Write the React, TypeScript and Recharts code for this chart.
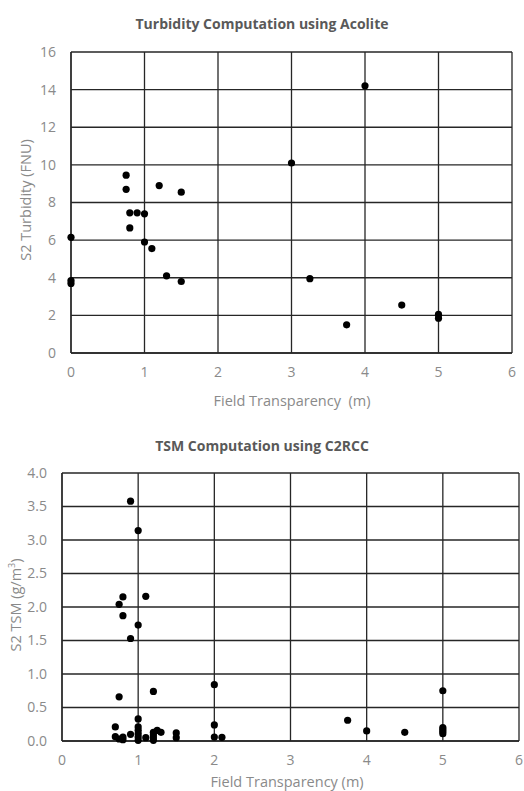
import { CartesianGrid, Scatter, ScatterChart, XAxis, YAxis } from "recharts"

// Turbidity (Acolite) vs field transparency
const turbidityX = [4, 3, 0.75, 0.75, 1.2, 1.5, 0.8, 0.9, 1.0, 0.8, 0, 1.0, 1.1, 1.3, 1.5, 0, 0, 3.25, 3.75, 4.5, 5, 5]
const turbidityY = [14.2, 10.1, 9.45, 8.7, 8.9, 8.55, 7.45, 7.45, 7.4, 6.65, 6.15, 5.9, 5.55, 4.1, 3.8, 3.85, 3.7, 3.95, 1.5, 2.55, 2.05, 1.85]

// TSM (C2RCC) vs field transparency
const tsmX = [
  0.9, 1.0, 0.75, 0.8, 0.8, 1.1, 1.0, 0.9, 0.75, 1.2, 2.0, 5, 1.0, 3.75, 4.0, 4.5,
  5, 5, 5, 5, 2.0, 2.0, 2.1, 0.7, 0.7, 0.75, 0.8, 0.8, 0.9,
  1.0, 1.0, 1.0, 1.0, 1.0, 1.1, 1.2, 1.2, 1.2, 1.2, 1.25, 1.3, 1.5, 1.5,
]
const tsmY = [
  3.58, 3.14, 2.04, 2.15, 1.87, 2.16, 1.73, 1.53, 0.66, 0.74, 0.84, 0.75, 0.33, 0.31, 0.15, 0.13,
  0.2, 0.17, 0.14, 0.11, 0.24, 0.06, 0.055, 0.21, 0.065, 0.03, 0.02, 0.06, 0.1,
  0.21, 0.16, 0.11, 0.06, 0.01, 0.05, 0.13, 0.09, 0.05, 0.01, 0.16, 0.13, 0.12, 0.05,
]

const turbidityTicksX = [0, 1, 2, 3, 4, 5, 6]
const turbidityTicksY = [0, 2, 4, 6, 8, 10, 12, 14, 16]
const tsmTicksX = [0, 1, 2, 3, 4, 5, 6]
const tsmTicksY = [0, 0.5, 1, 1.5, 2, 2.5, 3, 3.5, 4]

const turbidityData = turbidityX.map((x, i) => ({ x, y: turbidityY[i] }))
const tsmData = tsmX.map((x, i) => ({ x, y: tsmY[i] }))

const FONT = "'Open Sans', sans-serif"
const GRID = "#262626"
const TICK = { fill: "#8a8a8a", fontSize: 14, fontFamily: FONT }

const Dot = (props: any) => <circle cx={props.cx} cy={props.cy} r={3.6} fill="#000" />

const titleStyle: React.CSSProperties = {
  position: "absolute",
  left: 0,
  width: 524,
  textAlign: "center",
  fontFamily: FONT,
  fontWeight: 700,
  fontSize: 14,
  color: "#595959",
  whiteSpace: "nowrap",
}

const axisTitle: React.CSSProperties = {
  position: "absolute",
  fontFamily: FONT,
  fontSize: 14.5,
  color: "#8a8a8a",
  whiteSpace: "pre",
}

export default function App() {
  return (
    <div style={{ position: "absolute", left: 0, top: 0, width: 524, height: 791, background: "#fff", overflow: "hidden" }}>
      <div style={{ ...titleStyle, top: 14 }}>Turbidity Computation using Acolite</div>
      <div style={{ position: "absolute", left: 0, top: 0 }}>
        <ScatterChart width={524} height={380} margin={{ top: 52, right: 12, bottom: 0, left: 0 }}>
          <CartesianGrid stroke={GRID} strokeWidth={1.3} />
          <XAxis
            type="number"
            dataKey="x"
            domain={[0, 6]}
            ticks={turbidityTicksX}
            height={27}
            tickLine={false}
            tickMargin={8}
            axisLine={{ stroke: GRID, strokeWidth: 1.3 }}
            tick={TICK}
          />
          <YAxis
            type="number"
            dataKey="y"
            domain={[0, 16]}
            ticks={turbidityTicksY}
            width={71}
            tickLine={false}
            tickMargin={9}
            axisLine={{ stroke: GRID, strokeWidth: 1.3 }}
            tick={TICK}
          />
          <Scatter data={turbidityData} shape={Dot} isAnimationActive={false} />
        </ScatterChart>
      </div>
      <div style={{ ...axisTitle, left: 0, width: 524, top: 391, textAlign: "center", paddingLeft: 60, boxSizing: "border-box" }}>
        {"Field Transparency  (m)"}
      </div>
      <div style={{ ...axisTitle, left: 25, top: 200, transform: "translate(-50%, -50%) rotate(-90deg)" }}>
        S2 Turbidity (FNU)
      </div>

      <div style={{ ...titleStyle, top: 436 }}>TSM Computation using C2RCC</div>
      <div style={{ position: "absolute", left: 0, top: 420 }}>
        <ScatterChart width={524} height={350} margin={{ top: 53, right: 5, bottom: 0, left: 0 }}>
          <CartesianGrid stroke={GRID} strokeWidth={1.3} />
          <XAxis
            type="number"
            dataKey="x"
            domain={[0, 6]}
            ticks={tsmTicksX}
            height={29}
            tickLine={false}
            tickMargin={8}
            axisLine={{ stroke: GRID, strokeWidth: 1.3 }}
            tick={TICK}
          />
          <YAxis
            type="number"
            dataKey="y"
            domain={[0, 4]}
            ticks={tsmTicksY}
            width={62}
            tickLine={false}
            tickMargin={9}
            tickFormatter={(v: number) => v.toFixed(1)}
            axisLine={{ stroke: GRID, strokeWidth: 1.3 }}
            tick={TICK}
          />
          <Scatter data={tsmData} shape={Dot} isAnimationActive={false} />
        </ScatterChart>
      </div>
      <div style={{ ...axisTitle, left: 0, width: 524, top: 772, textAlign: "center", paddingLeft: 50, boxSizing: "border-box" }}>
        Field Transparency (m)
      </div>
      <div style={{ ...axisTitle, left: 15, top: 605, transform: "translate(-50%, -50%) rotate(-90deg)" }}>
        S2 TSM (g/m<sup style={{ fontSize: 9, verticalAlign: "super", lineHeight: 0 }}>3</sup>)
      </div>
    </div>
  )
}
